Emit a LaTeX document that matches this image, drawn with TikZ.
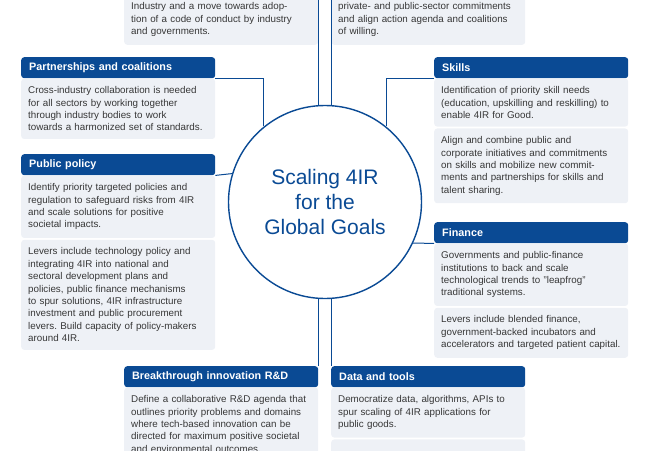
\documentclass[tikz,border=0pt]{standalone}
\usepackage{fontspec}
\setmainfont{Liberation Sans}
\usetikzlibrary{positioning}
\definecolor{wefblue}{RGB}{10,74,148}
\definecolor{cardgray}{RGB}{238,241,246}
\definecolor{bodytext}{RGB}{55,55,55}
\frenchspacing

\begin{document}
\begin{tikzpicture}[x=1pt, y=1pt,
    head/.style={fill=wefblue, text=white, font=\fontsize{10.8}{12}\selectfont\bfseries,
        text width=178pt, inner xsep=8pt, inner ysep=0pt, minimum height=21pt,
        align=left, rounded corners=3pt},
    part/.style={fill=cardgray, text=bodytext, font=\fontsize{9.8}{12.4}\selectfont,
        text width=180pt, inner xsep=7pt, inner ysep=8pt, align=left, rounded corners=3pt},
    link/.style={draw=wefblue, line width=1pt}]
    \useasboundingbox (0,0) rectangle (650,-450);
    \clip (0,0) rectangle (650,-450);

    % hub
    \node[circle, draw=wefblue, line width=1.4pt, minimum size=193pt, inner sep=0pt,
        align=center, text=wefblue, font=\fontsize{21}{25}\selectfont]
        (hub) at (325,-202) {Scaling 4IR\\for the\\Global Goals};

    % top boxes (cut by the page edge)
    \node[part, anchor=south west] (topLbody) at (124,-45)
        {Industry and a move towards adop-\\tion of a code of conduct by industry\\and governments.};
    \node[part, anchor=south west] (topRbody) at (331,-45)
        {private- and public-sector commitments\\and align action agenda and coalitions\\of willing.};

    % left column
    \node[head, anchor=north west] (parthead) at (21,-57) {Partnerships and coalitions};
    \node[part, below=0pt of parthead] (partbody)
        {Cross-industry collaboration is needed\\for all sectors by working together\\through industry bodies to work\\towards a harmonized set of standards.};

    \node[head, anchor=north west] (polhead) at (21,-154) {Public policy};
    \node[part, below=0pt of polhead] (polbody1)
        {Identify priority targeted policies and\\regulation to safeguard risks from 4IR\\and scale solutions for positive\\societal impacts.};
    \node[part, below=1.5pt of polbody1] (polbody2)
        {Levers include technology policy and\\integrating 4IR into national and\\sectoral development plans and\\policies, public finance mechanisms\\to spur solutions, 4IR infrastructure\\investment and public procurement\\levers. Build capacity of policy-makers\\around 4IR.};

    % right column
    \node[head, anchor=north west] (skillhead) at (434,-57) {Skills};
    \node[part, below=0pt of skillhead] (skillbody1)
        {Identification of priority skill needs\\(education, upskilling and reskilling) to\\enable 4IR for Good.};
    \node[part, below=1.5pt of skillbody1] (skillbody2)
        {Align and combine public and\\corporate initiatives and commitments\\on skills and mobilize new commit-\\ments and partnerships for skills and\\talent sharing.};

    \node[head, anchor=north west] (finhead) at (434,-222) {Finance};
    \node[part, below=0pt of finhead] (finbody1)
        {Governments and public-finance\\institutions to back and scale\\technological trends to "leapfrog"\\traditional systems.};
    \node[part, below=1.5pt of finbody1] (finbody2)
        {Levers include blended finance,\\government-backed incubators and\\accelerators and targeted patient capital.};

    % bottom boxes
    \node[head, anchor=north west] (rdhead) at (124,-366) {Breakthrough innovation R\&D};
    \node[part, below=0pt of rdhead] (rdbody)
        {Define a collaborative R\&D agenda that\\outlines priority problems and domains\\where tech-based innovation can be\\directed for maximum positive societal\\and environmental outcomes.};

    \node[head, anchor=north west] (datahead) at (331,-366) {Data and tools};
    \node[part, below=0pt of datahead] (databody1)
        {Democratize data, algorithms, APIs to\\spur scaling of 4IR applications for\\public goods.};
    \node[part, below=1.5pt of databody1, minimum height=30pt] (databody2) {};

    % links to the hub
    \draw[link] (topLbody.north east) -- (topLbody.north east |- hub.north);
    \draw[link] (topRbody.north west) -- (topRbody.north west |- hub.north);
    \draw[link] (parthead.south east) -| (hub.129);
    \draw[link] (skillhead.south west) -| (hub.51.5);
    \draw[link] (polhead.south east) -- (hub.163.7);
    \draw[link] (finhead.south west) -- (hub.-25.1);
    \draw[link] (rdhead.north east) -- (rdhead.north east |- hub.south);
    \draw[link] (datahead.north west) -- (datahead.north west |- hub.south);
\end{tikzpicture}
\end{document}
